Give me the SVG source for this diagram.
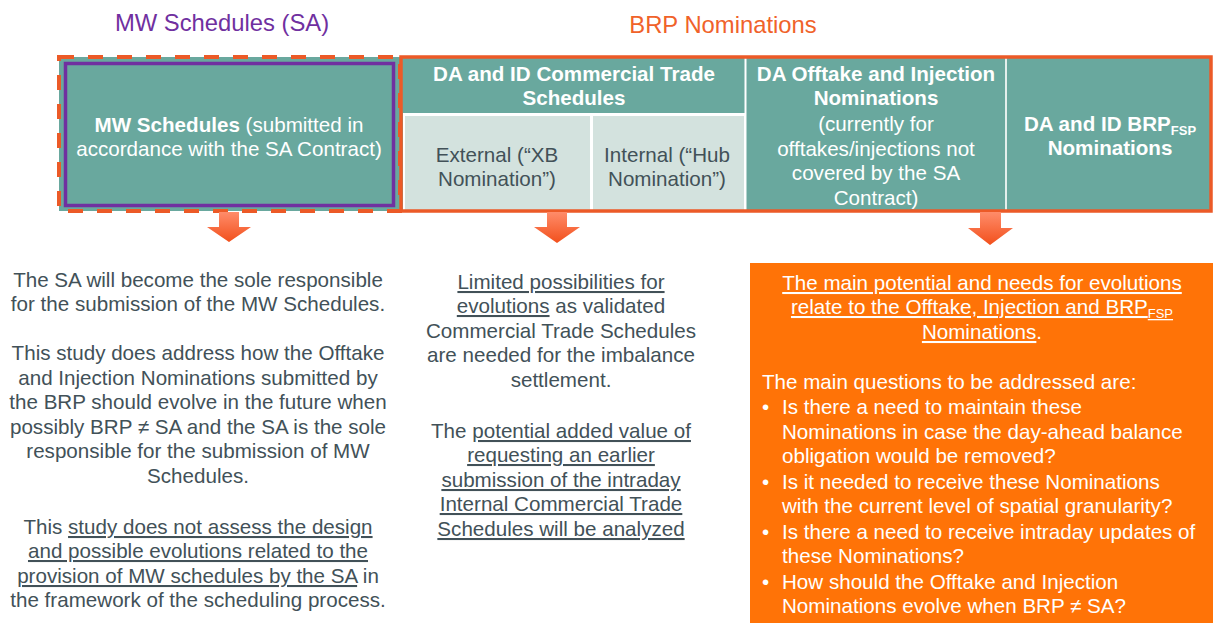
<svg xmlns="http://www.w3.org/2000/svg" width="1213" height="623" viewBox="0 0 1213 623">
<defs>
<linearGradient id="ag" x1="0" y1="0" x2="0" y2="1">
<stop offset="0" stop-color="#FF8C6A"/>
<stop offset="1" stop-color="#F2501C"/>
</linearGradient>
<style>
text{font-family:"Liberation Sans",Arial,sans-serif;}
.t{font-size:20.6px;fill:#425158;text-anchor:middle;}
.w{font-size:20.6px;fill:#ffffff;text-anchor:middle;}
.wb{font-size:20.6px;fill:#ffffff;text-anchor:middle;font-weight:bold;}
.d{font-size:20.6px;fill:#425158;text-anchor:middle;}
.o{font-size:20.6px;fill:#ffffff;}
.u{text-decoration:underline;}
.sub{font-size:13px;}
</style>
</defs>
<rect width="1213" height="623" fill="#ffffff"/>
<text x="222" y="31" style="font-size:23.8px;fill:#7030A0;text-anchor:middle">MW Schedules (SA)</text>
<text x="723" y="33" style="font-size:23.8px;fill:#F0622A;text-anchor:middle">BRP Nominations</text>

<g id="mw-schedules">
<rect x="59" y="57" width="341" height="154" fill="#69A89E"/>
<rect x="65.5" y="63.5" width="328" height="142" fill="none" stroke="#7030A0" stroke-width="3.5"/>
<rect x="59" y="57" width="341" height="154" fill="none" stroke="#EC5A27" stroke-width="4" stroke-dasharray="15 14"/>
<text class="w" x="229" y="132"><tspan font-weight="bold">MW Schedules</tspan> (submitted in</text>
<text class="w" x="229" y="156">accordance with the SA Contract)</text>
</g>

<g id="brp-nominations">
<rect x="401" y="57" width="810" height="154" fill="#69A89E"/>
<rect x="403" y="113" width="343" height="97" fill="#ffffff"/>
<rect x="405" y="116" width="185" height="94" fill="#D3E2DE"/>
<rect x="593" y="116" width="151" height="94" fill="#D3E2DE"/>
<line x1="745.5" y1="58" x2="745.5" y2="210" stroke="#ffffff" stroke-width="2"/>
<line x1="1006" y1="58" x2="1006" y2="210" stroke="#E4EFEC" stroke-width="2"/>
<rect x="401" y="57" width="810" height="154" fill="none" stroke="#EC5A27" stroke-width="3.5"/>
</g>

<g id="commercial-trade">
<text class="wb" x="574" y="81">DA and ID Commercial Trade</text>
<text class="wb" x="574" y="105">Schedules</text>
</g>
<g id="external">
<text class="d" x="497" y="162">External (“XB</text>
<text class="d" x="497" y="186">Nomination”)</text>
</g>
<g id="internal">
<text class="d" x="667" y="162">Internal (“Hub</text>
<text class="d" x="667" y="186">Nomination”)</text>
</g>
<g id="offtake-injection">
<text class="wb" x="876" y="81">DA Offtake and Injection</text>
<text class="wb" x="876" y="105">Nominations</text>
<text class="w" x="876" y="131">(currently for</text>
<text class="w" x="876" y="156">offtakes/injections not</text>
<text class="w" x="876" y="180">covered by the SA</text>
<text class="w" x="876" y="205">Contract)</text>
</g>
<g id="brp-fsp">
<text class="wb" x="1110" y="131">DA and ID BRP<tspan class="sub" dy="4">FSP</tspan></text>
<text class="wb" x="1110" y="155">Nominations</text>
</g>

<g id="connectors">
<polygon points="219,212 239,212 239,227 251,227 229,242 207,227 219,227" fill="url(#ag)"/>
<polygon points="547,212 567,212 567,227 580,227 557,243 534,227 547,227" fill="url(#ag)"/>
<polygon points="980,212 1001,212 1001,228 1013,228 990,245 968,228 980,228" fill="url(#ag)"/>
</g>

<g id="left-text">
<text class="t" x="198" y="287">The SA will become the sole responsible</text>
<text class="t" x="198" y="311">for the submission of the MW Schedules.</text>
<text class="t" x="198" y="360">This study does address how the Offtake</text>
<text class="t" x="198" y="385">and Injection Nominations submitted by</text>
<text class="t" x="198" y="409">the BRP should evolve in the future when</text>
<text class="t" x="198" y="434">possibly BRP ≠ SA and the SA is the sole</text>
<text class="t" x="198" y="458">responsible for the submission of MW</text>
<text class="t" x="198" y="483">Schedules.</text>
<text class="t" x="198" y="534">This <tspan class="u">study does not assess the design</tspan></text>
<text class="t" x="198" y="558"><tspan class="u">and possible evolutions related to the</tspan></text>
<text class="t" x="198" y="583"><tspan class="u">provision of MW schedules by the SA</tspan> in</text>
<text class="t" x="198" y="607">the framework of the scheduling process.</text>
</g>

<g id="middle-text">
<text class="t" x="561" y="289"><tspan class="u">Limited possibilities for</tspan></text>
<text class="t" x="561" y="313"><tspan class="u">evolutions</tspan> as validated</text>
<text class="t" x="561" y="338">Commercial Trade Schedules</text>
<text class="t" x="561" y="362">are needed for the imbalance</text>
<text class="t" x="561" y="387">settlement.</text>
<text class="t" x="561" y="438">The <tspan class="u">potential added value of</tspan></text>
<text class="t" x="561" y="462"><tspan class="u">requesting an earlier</tspan></text>
<text class="t" x="561" y="487"><tspan class="u">submission of the intraday</tspan></text>
<text class="t" x="561" y="511"><tspan class="u">Internal Commercial Trade</tspan></text>
<text class="t" x="561" y="536"><tspan class="u">Schedules will be analyzed</tspan></text>
</g>

<g id="right-box">
<rect x="750" y="263" width="463" height="360" fill="#FF7307"/>
<text class="w" x="982" y="290"><tspan class="u">The main potential and needs for evolutions</tspan></text>
<text class="w" x="982" y="314"><tspan class="u">relate to the Offtake, Injection and BRP</tspan><tspan class="sub u" dy="4">FSP</tspan></text>
<text class="w" x="982" y="339"><tspan class="u">Nominations</tspan>.</text>
<text class="o" x="762" y="389">The main questions to be addressed are:</text>
<text class="o" x="762" y="414">•</text>
<text class="o" x="782" y="414">Is there a need to maintain these</text>
<text class="o" x="782" y="439">Nominations in case the day-ahead balance</text>
<text class="o" x="782" y="463">obligation would be removed?</text>
<text class="o" x="762" y="489">•</text>
<text class="o" x="782" y="489">Is it needed to receive these Nominations</text>
<text class="o" x="782" y="513">with the current level of spatial granularity?</text>
<text class="o" x="762" y="539">•</text>
<text class="o" x="782" y="539">Is there a need to receive intraday updates of</text>
<text class="o" x="782" y="563">these Nominations?</text>
<text class="o" x="762" y="589">•</text>
<text class="o" x="782" y="589">How should the Offtake and Injection</text>
<text class="o" x="782" y="613">Nominations evolve when BRP ≠ SA?</text>
</g>
</svg>
